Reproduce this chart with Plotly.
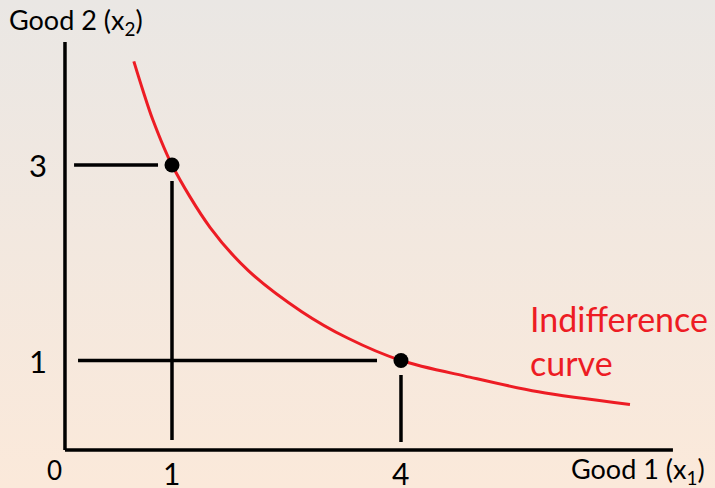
import base64
import plotly.graph_objects as go

# ---- data ----
curve_x = [0.50, 0.62, 0.75, 1.00, 1.50, 2.00, 2.70, 3.30, 4.00, 4.90, 5.80, 7.00]
curve_y = [4.06, 3.76, 3.46, 3.00, 2.36, 1.92, 1.50, 1.23, 1.00, 0.83, 0.68, 0.55]
point_x = [1, 4]
point_y = [3, 1]
y_tick_vals = [3, 1]
y_tick_text = ["3", "1"]
x_tick_vals = [1, 4]
x_tick_text = ["1", "4"]

RED = "#ED1C24"
FONT = "Lato"

# x range / y range chosen so the schematic sits where it does in the picture
XR = [-1.2533, 8.114]
YR = [-0.3043, 4.688]

svg = (
    '<svg xmlns="http://www.w3.org/2000/svg" width="715" height="488" preserveAspectRatio="none">'
    '<defs><linearGradient id="g" x1="0" y1="0" x2="0" y2="1">'
    '<stop offset="0" stop-color="#EAE7E4"/><stop offset="1" stop-color="#FBE9DA"/>'
    '</linearGradient></defs><rect width="715" height="488" fill="url(#g)"/></svg>'
)
bg_src = "data:image/svg+xml;base64," + base64.b64encode(svg.encode()).decode()

fig = go.Figure()

fig.add_trace(go.Scatter(
    x=curve_x, y=curve_y, mode="lines",
    line=dict(color=RED, width=3, shape="spline", smoothing=0.9),
    hoverinfo="skip", showlegend=False,
))
fig.add_trace(go.Scatter(
    x=point_x, y=point_y, mode="markers",
    marker=dict(color="black", size=15),
    hoverinfo="skip", showlegend=False,
))

# axes of the diagram
ax0_x = -0.402
ax0_y = 0.084
line = dict(color="black", width=3.5)
fig.add_shape(type="line", x0=ax0_x, x1=ax0_x, y0=ax0_y, y1=4.258, line=line)
fig.add_shape(type="line", x0=ax0_x, x1=7.563, y0=ax0_y, y1=ax0_y, line=line)
# guide lines for the two bundles
fig.add_shape(type="line", x0=-0.283, x1=0.817, y0=point_y[0], y1=point_y[0], line=line)
fig.add_shape(type="line", x0=point_x[0], x1=point_x[0], y0=2.836, y1=0.187, line=line)
fig.add_shape(type="line", x0=-0.231, x1=3.686, y0=point_y[1], y1=point_y[1], line=line)
fig.add_shape(type="line", x0=point_x[1], x1=point_x[1], y0=0.852, y1=0.166, line=line)

ann = []
for v, t in zip(y_tick_vals, y_tick_text):
    ann.append(dict(x=-0.75, y=v, xref="x", yref="y", text=t, showarrow=False,
                    xanchor="center", yanchor="middle",
                    font=dict(family=FONT, size=31, color="black")))
for v, t in zip(x_tick_vals, x_tick_text):
    ann.append(dict(x=v, y=-0.15, xref="x", yref="y", text=t, showarrow=False,
                    xanchor="center", yanchor="middle",
                    font=dict(family=FONT, size=30, color="black")))
ann.append(dict(x=-0.54, y=-0.12, xref="x", yref="y", text="0", showarrow=False,
                xanchor="center", yanchor="middle",
                font=dict(family=FONT, size=26, color="black")))
ann.append(dict(x=7 / 715, y=1 - 22 / 488, xref="paper", yref="paper",
                text="Good 2 (x<sub>2</sub>)", showarrow=False,
                xanchor="left", yanchor="middle",
                font=dict(family=FONT, size=27, color="black")))
ann.append(dict(x=707 / 715, y=1 - 470 / 488, xref="paper", yref="paper",
                text="Good 1 (x<sub>1</sub>)", showarrow=False,
                xanchor="right", yanchor="middle",
                font=dict(family=FONT, size=27, color="black")))
ann.append(dict(x=528 / 715, y=1 - 340 / 488, xref="paper", yref="paper",
                text="Indifference<br>curve", showarrow=False, align="left",
                xanchor="left", yanchor="middle",
                font=dict(family=FONT, size=34, color=RED)))

fig.update_layout(
    width=715, height=488,
    margin=dict(l=0, r=0, t=0, b=0),
    paper_bgcolor="#F3E8DF",
    plot_bgcolor="rgba(0,0,0,0)",
    xaxis=dict(range=XR, visible=False, fixedrange=True),
    yaxis=dict(range=YR, visible=False, fixedrange=True),
    images=[dict(source=bg_src, xref="paper", yref="paper", x=0, y=1,
                 sizex=1, sizey=1, xanchor="left", yanchor="top",
                 sizing="stretch", layer="below")],
    annotations=ann,
    showlegend=False,
)

fig.write_html(
    "out.html",
    config={"displayModeBar": False},
    post_script="document.body.style.margin='0';document.body.style.overflow='hidden';",
)
